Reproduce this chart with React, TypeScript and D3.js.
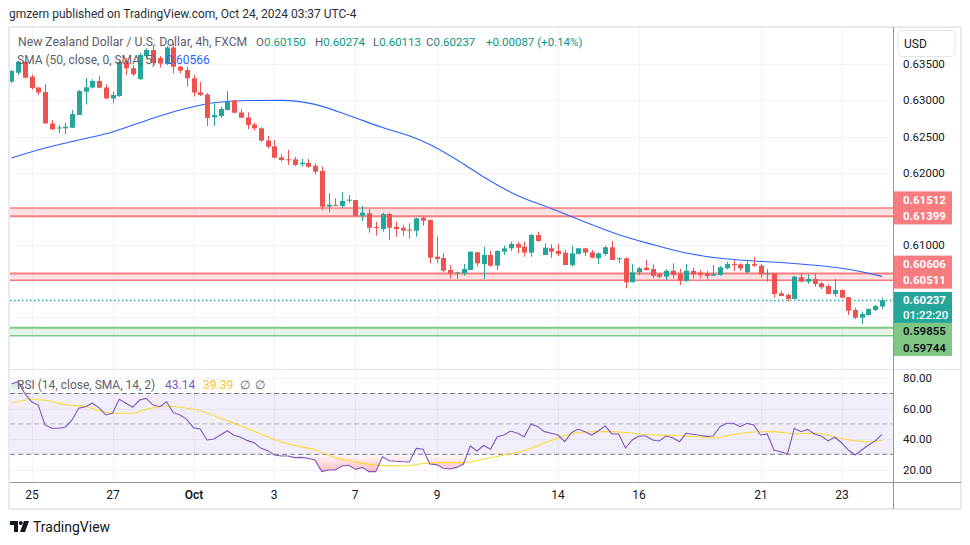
import React from "react";
import * as d3 from "d3";

// ---------- DATA (NZD/USD 4h, FXCM) ----------
const opens = [0.63259,0.63383,0.63535,0.63328,0.63178,0.63116,0.62681,0.62618,0.62614,0.62622,0.62798,0.63120,0.63178,0.63268,0.63178,0.63026,0.63061,0.63535,0.63444,0.63296,0.63614,0.63697,0.63586,0.63503,0.63732,0.63466,0.63420,0.63306,0.63112,0.63082,0.62766,0.62784,0.62867,0.62996,0.62833,0.62764,0.62667,0.62614,0.62445,0.62365,0.62213,0.62185,0.62185,0.62116,0.62134,0.62097,0.62024,0.61530,0.61553,0.61539,0.61618,0.61622,0.61405,0.61438,0.61249,0.61221,0.61429,0.61253,0.61239,0.61212,0.61198,0.61378,0.61346,0.60838,0.60820,0.60654,0.60617,0.60609,0.60654,0.60899,0.60737,0.60862,0.60714,0.60907,0.60954,0.61014,0.60977,0.60894,0.61138,0.60862,0.60954,0.60917,0.60894,0.60723,0.60876,0.60954,0.60899,0.60816,0.60876,0.60968,0.60802,0.60816,0.60484,0.60622,0.60686,0.60668,0.60595,0.60562,0.60645,0.60599,0.60506,0.60641,0.60617,0.60609,0.60575,0.60585,0.60678,0.60737,0.60733,0.60622,0.60737,0.60714,0.60595,0.60609,0.60332,0.60309,0.60253,0.60553,0.60492,0.60530,0.60470,0.60433,0.60322,0.60378,0.60277,0.60101,0.59995,0.60032,0.60101,0.60150];
const highs = [0.63420,0.63545,0.63552,0.63358,0.63185,0.63227,0.62729,0.62660,0.62692,0.62867,0.63144,0.63310,0.63292,0.63337,0.63223,0.63120,0.63545,0.63586,0.63490,0.63656,0.63721,0.63766,0.63614,0.63752,0.63790,0.63476,0.63466,0.63351,0.63254,0.63102,0.62960,0.62913,0.63130,0.63006,0.62881,0.62835,0.62692,0.62628,0.62508,0.62452,0.62254,0.62314,0.62217,0.62190,0.62190,0.62130,0.62083,0.61715,0.61646,0.61729,0.61692,0.61629,0.61539,0.61498,0.61322,0.61447,0.61447,0.61322,0.61277,0.61300,0.61378,0.61405,0.61353,0.61115,0.60885,0.60723,0.60631,0.60737,0.60917,0.60907,0.60977,0.60921,0.60931,0.60990,0.61046,0.61046,0.61046,0.61152,0.61184,0.61024,0.61010,0.61014,0.60931,0.60990,0.60963,0.60963,0.60931,0.60894,0.60990,0.61055,0.60830,0.60830,0.60733,0.60700,0.60793,0.60733,0.60609,0.60664,0.60747,0.60668,0.60737,0.60686,0.60654,0.60641,0.60723,0.60710,0.60769,0.60793,0.60747,0.60783,0.60830,0.60737,0.60664,0.60613,0.60364,0.60332,0.60571,0.60609,0.60595,0.60609,0.60492,0.60456,0.60530,0.60387,0.60281,0.60133,0.60078,0.60125,0.60170,0.60274];
const lows = [0.63241,0.63351,0.63303,0.63151,0.63075,0.62674,0.62591,0.62549,0.62535,0.62618,0.62798,0.62943,0.63167,0.63167,0.63015,0.62960,0.63047,0.63351,0.63337,0.63282,0.63586,0.63476,0.63455,0.63490,0.63375,0.63375,0.63189,0.63054,0.63061,0.62646,0.62646,0.62757,0.62867,0.62822,0.62752,0.62604,0.62581,0.62429,0.62337,0.62199,0.62152,0.62107,0.62093,0.62083,0.62069,0.61978,0.61484,0.61452,0.61539,0.61508,0.61577,0.61401,0.61332,0.61170,0.61129,0.61184,0.61069,0.61115,0.61129,0.61083,0.61115,0.61267,0.60747,0.60747,0.60622,0.60539,0.60530,0.60575,0.60654,0.60700,0.60530,0.60700,0.60654,0.60862,0.60917,0.60885,0.60838,0.60838,0.61046,0.60862,0.60824,0.60848,0.60723,0.60700,0.60871,0.60852,0.60816,0.60737,0.60852,0.60793,0.60747,0.60401,0.60484,0.60585,0.60645,0.60539,0.60539,0.60516,0.60539,0.60447,0.60492,0.60539,0.60539,0.60530,0.60571,0.60575,0.60664,0.60641,0.60641,0.60609,0.60700,0.60548,0.60492,0.60271,0.60291,0.60216,0.60253,0.60488,0.60461,0.60423,0.60391,0.60322,0.60285,0.60263,0.60032,0.59977,0.59907,0.60022,0.60087,0.60113];
const closes = [0.63407,0.63535,0.63314,0.63171,0.63109,0.62681,0.62600,0.62625,0.62636,0.62812,0.63130,0.63181,0.63268,0.63176,0.63029,0.63075,0.63531,0.63444,0.63361,0.63628,0.63697,0.63517,0.63510,0.63732,0.63466,0.63411,0.63306,0.63109,0.63075,0.62757,0.62798,0.62881,0.62982,0.62830,0.62761,0.62660,0.62614,0.62443,0.62360,0.62207,0.62176,0.62178,0.62107,0.62138,0.62083,0.62014,0.61530,0.61557,0.61546,0.61609,0.61627,0.61405,0.61447,0.61239,0.61239,0.61429,0.61239,0.61221,0.61198,0.61205,0.61369,0.61336,0.60824,0.60806,0.60645,0.60609,0.60622,0.60668,0.60907,0.60747,0.60862,0.60714,0.60917,0.60954,0.61014,0.60963,0.60894,0.61138,0.61055,0.60963,0.60907,0.60876,0.60723,0.60885,0.60954,0.60894,0.60824,0.60885,0.60968,0.60793,0.60816,0.60484,0.60622,0.60678,0.60654,0.60575,0.60562,0.60641,0.60585,0.60506,0.60645,0.60595,0.60585,0.60571,0.60599,0.60692,0.60737,0.60729,0.60678,0.60737,0.60714,0.60595,0.60609,0.60322,0.60295,0.60253,0.60562,0.60492,0.60530,0.60461,0.60415,0.60322,0.60378,0.60271,0.60091,0.59995,0.60046,0.60115,0.60156,0.60237];

const smaIdx = [0,5,10,15,20,25,30,35,40,45,50,55,60,62,65,67,70,72,75,80,85,90,95,100,105,110,115,120,125,129];
const smaVals = [0.62203,0.62342,0.62452,0.62563,0.62723,0.62867,0.62967,0.62999,0.63001,0.62945,0.62791,0.62625,0.62473,0.62389,0.62235,0.62120,0.61940,0.61830,0.61685,0.61505,0.61318,0.61142,0.61007,0.60889,0.60817,0.60779,0.60751,0.60712,0.60647,0.60566];

const rsiVals = [76.3,77.8,70.1,64.6,62.4,49.3,47.1,47.1,47.8,52.6,60.3,61.3,63.6,60.7,55.9,57.0,66.2,63.6,60.9,65.7,66.8,62.4,61.3,64.6,57.4,55.9,53.0,47.5,46.6,39.4,40.1,42.7,45.5,42.5,41.2,39.0,37.6,33.9,32.4,29.5,28.9,28.9,27.8,28.0,27.4,26.3,18.6,19.7,19.7,22.3,22.8,20.1,21.4,18.6,18.6,28.4,25.8,25.4,25.1,24.9,33.9,33.3,23.6,23.2,20.8,20.3,21.4,23.6,35.5,32.2,35.8,33.3,41.6,42.7,45.3,43.8,41.6,49.9,48.2,44.9,43.8,42.7,38.3,44.2,46.6,44.9,42.7,45.5,48.6,43.4,43.4,34.1,39.4,42.0,42.0,39.4,38.8,42.0,40.9,38.3,43.8,43.2,42.5,41.8,42.0,48.2,50.4,50.4,48.2,50.4,49.3,42.7,43.4,32.8,31.7,30.2,47.1,44.9,46.4,43.4,42.0,38.8,41.2,37.6,32.8,29.5,32.8,36.1,38.8,43.14];

const rsiMaIdx = [0,3,5,8,11,13,15,18,20,23,26,28,31,34,38,40,43,45,48,51,54,58,61,64,67,70,73,76,79,82,85,88,91,94,98,102,104,107,110,113,116,119,122,125,127,129];
const rsiMaVals = [63.6,66.1,65.6,62.6,61.4,58.8,57.0,57.0,59.6,61.8,60.3,58.7,53.7,48.8,41.4,38.1,34.9,33.0,27.8,25.0,22.9,22.3,23.9,24.5,24.5,26.9,29.5,32.5,37.4,42.3,44.7,44.9,44.3,43.0,42.4,41.4,40.7,43.0,44.7,44.9,43.4,44.0,41.4,38.9,38.2,39.39];

const timeTickIdx = [3,15,27,39,51,63,81,93,111,123];
const timeTickLabels = ["25","27","Oct","3","7","9","14","16","21","23"];
const priceTicks = [0.635,0.63,0.625,0.62,0.615,0.61,0.605,0.6];
const rsiTicks = [80,60,40,20];

const zoneHigh = [0.61512,0.60606,0.59855];
const zoneLow = [0.61399,0.60511,0.59744];
const zoneKind = ["res","res","sup"];

const lastOpen = 0.6015, lastHigh = 0.60274, lastLow = 0.60113, lastClose = 0.60237;
const lastChange = "+0.00087 (+0.14%)";
const smaLast = 0.60566;
const rsiLast = 43.14, rsiMaLast = 39.39;
const countdown = "01:22:20";

// ---------- STYLE ----------
const GREEN = "#26a69a";
const RED = "#ef5350";
const GRID = "#f0f3fa";
const TXT = "#131722";
const LEG = "#5d606b";
const VAL = "#089981";
const FONT = "Roboto, 'Noto Sans', sans-serif";

export default function App() {
  const N = closes.length;
  const plotL = 10, plotR = 893.5;
  const mainTop = 28, mainBot = 369.5, rsiTop = 370, rsiBot = 482;

  const xs = d3.scaleLinear().domain([0, N - 1]).range([11.25, 882]);
  const yP = d3.scaleLinear().domain([0.6, 0.635]).range([317.3, 64.25]);
  const yR = d3.scaleLinear().domain([20, 80]).range([469.5, 378.3]);
  const cx = (i: number) => Math.round(xs(i));

  const smaPath = d3.line<number>().x((_, k) => xs(smaIdx[k])).y((d) => yP(d)).curve(d3.curveMonotoneX)(smaVals) || "";
  const rsiPath = d3.line<number>().x((_, i) => xs(i)).y((d) => yR(d))(rsiVals) || "";
  const rsiMaPath = d3.line<number>().x((_, k) => xs(rsiMaIdx[k])).y((d) => yR(d)).curve(d3.curveMonotoneX)(rsiMaVals) || "";
  const obArea = d3.area<number>().x((_, i) => xs(i)).y0(yR(70)).y1((d) => yR(d))(rsiVals) || "";
  const osArea = d3.area<number>().x((_, i) => xs(i)).y0(yR(30)).y1((d) => yR(d))(rsiVals) || "";

  // price labels on axis
  const LH = 16.5;
  const tealC = yP(lastClose);
  const tealTop = tealC - 8.25;
  const tealBot = tealTop + 31;
  const zoneLabels = zoneHigh.map((hi, k) => {
    const lo = zoneLow[k];
    if (zoneKind[k] === "sup") {
      const c1 = Math.max(yP(hi), tealBot + LH / 2);
      const c2 = Math.max(yP(lo), c1 + LH);
      return { c1, c2, hi, lo, kind: zoneKind[k] };
    }
    const c2 = Math.min(yP(lo), tealTop - LH / 2);
    const c1 = Math.min(yP(hi), c2 - LH);
    return { c1, c2, hi, lo, kind: zoneKind[k] };
  });
  const boxes = [
    ...zoneLabels.map((z) => [z.c1 - LH / 2, z.c2 + LH / 2]),
    [tealTop, tealBot],
  ];
  const visibleTicks = priceTicks.filter((p) => {
    const y = yP(p);
    return !boxes.some(([a, b]) => y + 7 > a && y - 7 < b);
  });

  return (
    <svg width={970} height={545} style={{ position: "absolute", left: 0, top: 0, background: "#fff" }} fontFamily={FONT}>
      <defs>
        <clipPath id="mainClip"><rect x={plotL} y={mainTop} width={plotR - plotL} height={mainBot - mainTop} /></clipPath>
        <clipPath id="rsiClip"><rect x={plotL} y={rsiTop} width={plotR - plotL} height={rsiBot - rsiTop} /></clipPath>
        <clipPath id="obClip"><rect x={plotL} y={rsiTop} width={plotR - plotL} height={yR(70) - rsiTop} /></clipPath>
        <clipPath id="osClip"><rect x={plotL} y={yR(30)} width={plotR - plotL} height={rsiBot - yR(30)} /></clipPath>
        <linearGradient id="osGrad" gradientUnits="userSpaceOnUse" x1="0" x2="0" y1={yR(30)} y2={yR(0)}>
          <stop offset="0" stopColor="#f23645" stopOpacity={0.02} />
          <stop offset="1" stopColor="#f23645" stopOpacity={0.85} />
        </linearGradient>
        <linearGradient id="obGrad" gradientUnits="userSpaceOnUse" x1="0" x2="0" y1={yR(70)} y2={yR(100)}>
          <stop offset="0" stopColor="#089981" stopOpacity={0.02} />
          <stop offset="1" stopColor="#089981" stopOpacity={0.85} />
        </linearGradient>
      </defs>

      {/* header */}
      <text x={9} y={17.5} fontSize={12} fill="#2a2e39">gmzern published on TradingView.com, Oct 24, 2024 03:37 UTC-4</text>

      {/* frame */}
      <rect x={9} y={27} width={952} height={482} fill="#fff" stroke="#e0e3eb" strokeWidth={1.5} />

      {/* grid */}
      {timeTickIdx.map((ti, k) => (
        <line key={"vg" + k} x1={cx(ti) + 0.5} x2={cx(ti) + 0.5} y1={mainTop} y2={rsiBot} stroke={GRID} strokeWidth={1} />
      ))}
      {priceTicks.map((p, k) => (
        <line key={"hg" + k} x1={plotL} x2={plotR} y1={Math.round(yP(p)) + 0.5} y2={Math.round(yP(p)) + 0.5} stroke={GRID} />
      ))}
      {rsiTicks.map((v, k) => (
        <line key={"rg" + k} x1={plotL} x2={plotR} y1={Math.round(yR(v)) + 0.5} y2={Math.round(yR(v)) + 0.5} stroke={GRID} />
      ))}

      {/* zones */}
      <g clipPath="url(#mainClip)">
        {zoneHigh.map((hi, k) => {
          const col = zoneKind[k] === "sup" ? "#81c784" : "#f77c80";
          const y1 = yP(hi), y2 = yP(zoneLow[k]);
          const wTop = k === 0 ? 1.5 : 2;
          const wBot = k === 0 ? 2 : 1.5;
          return (
            <g key={"z" + k}>
              <rect x={plotL} y={y1} width={plotR - plotL} height={y2 - y1} fill={col} fillOpacity={0.22} />
              <line x1={plotL} x2={plotR} y1={y1} y2={y1} stroke={col} strokeWidth={wTop} />
              <line x1={plotL} x2={plotR} y1={y2} y2={y2} stroke={col} strokeWidth={wBot} />
            </g>
          );
        })}

        {/* last price dotted line */}
        <line x1={plotL} x2={plotR} y1={Math.round(yP(lastClose)) + 0.5} y2={Math.round(yP(lastClose)) + 0.5} stroke={GREEN} strokeWidth={1.3} strokeDasharray="1.5 2.5" />

        {/* SMA */}
        <path d={smaPath} fill="none" stroke="#2962ff" strokeWidth={1.1} />

        {/* candles */}
        {closes.map((c, i) => {
          const o = opens[i];
          const col = c >= o ? GREEN : RED;
          const x = cx(i);
          const top = Math.min(yP(o), yP(c));
          const h = Math.max(1, Math.abs(yP(o) - yP(c)));
          return (
            <g key={"c" + i}>
              <line x1={x + 0.5} x2={x + 0.5} y1={yP(highs[i])} y2={yP(lows[i])} stroke={col} strokeWidth={1} />
              <rect x={x - 2} y={top} width={5} height={h} fill={col} />
            </g>
          );
        })}
      </g>

      {/* legend main */}
      <text x={18} y={45.5} fontSize={12.2} fill={LEG}>New Zealand Dollar / U.S. Dollar, 4h, FXCM</text>
      <g fontSize={11.5} fill={LEG}>
        <text x={256} y={45.5}>O<tspan fill={VAL}>{lastOpen.toFixed(5)}</tspan></text>
        <text x={315} y={45.5}>H<tspan fill={VAL}>{lastHigh.toFixed(5)}</tspan></text>
        <text x={373} y={45.5}>L<tspan fill={VAL}>{lastLow.toFixed(5)}</tspan></text>
        <text x={426} y={45.5}>C<tspan fill={VAL}>{lastClose.toFixed(5)}</tspan></text>
        <text x={486} y={45.5} fill={VAL}>{lastChange}</text>
      </g>
      <g fontSize={12}>
        <text x={17} y={63.5} fill={LEG}>SMA (50, close, 0, SMA, 5)</text>
        <text x={166} y={63.5} fill="#2962ff">{smaLast.toFixed(5)}</text>
      </g>

      {/* pane separator */}
      <line x1={plotL} x2={961} y1={369.5} y2={369.5} stroke="#e0e3eb" strokeWidth={1} />

      {/* RSI pane */}
      <rect x={plotL} y={yR(70)} width={plotR - plotL} height={yR(30) - yR(70)} fill="#7e57c2" fillOpacity={0.1} />
      <g clipPath="url(#rsiClip)">
        <path d={obArea} fill="url(#obGrad)" clipPath="url(#obClip)" />
        <path d={osArea} fill="url(#osGrad)" clipPath="url(#osClip)" />
      </g>
      <line x1={plotL} x2={plotR} y1={yR(70)} y2={yR(70)} stroke="#787b86" strokeDasharray="5 3" />
      <line x1={plotL} x2={plotR} y1={yR(50)} y2={yR(50)} stroke="#787b86" strokeOpacity={0.5} strokeDasharray="5 3" />
      <line x1={plotL} x2={plotR} y1={yR(30)} y2={yR(30)} stroke="#787b86" strokeDasharray="5 3" />
      <g clipPath="url(#rsiClip)">
        <path d={rsiMaPath} fill="none" stroke="#fdd835" strokeWidth={1.1} />
        <path d={rsiPath} fill="none" stroke="#7e57c2" strokeWidth={1.1} />
      </g>
      <g fontSize={12}>
        <text x={17} y={389} fill={LEG}>RSI (14, close, SMA, 14, 2)</text>
        <text x={165} y={389} fill="#7e57c2">{rsiLast.toFixed(2)}</text>
        <text x={203} y={389} fill="#fbc02d">{rsiMaLast.toFixed(2)}</text>
        <text x={240} y={389} fill={LEG}>∅</text>
        <text x={255} y={389} fill={LEG}>∅</text>
      </g>

      {/* axes lines */}
      <line x1={plotR} x2={plotR} y1={27} y2={509} stroke="#9598a1" strokeWidth={1} />
      <line x1={plotL} x2={961} y1={482.5} y2={482.5} stroke="#9598a1" strokeWidth={1} />

      {/* price axis labels */}
      <g fontSize={11.5} fill={TXT}>
        {visibleTicks.map((p, k) => (
          <text key={"pt" + k} x={903} y={yP(p) + 4}>{p.toFixed(5)}</text>
        ))}
        {rsiTicks.map((v, k) => (
          <text key={"rt" + k} x={903} y={yR(v) + 4}>{v.toFixed(2)}</text>
        ))}
      </g>

      {/* USD box */}
      <rect x={898} y={30.5} width={57} height={26} rx={4} fill="#fff" stroke="#e0e3eb" />
      <text x={904} y={48} fontSize={12} fill={TXT}>USD</text>

      {/* zone labels */}
      {zoneLabels.map((z, k) => {
        const sup = z.kind === "sup";
        const bg = sup ? "#81c784" : "#f77c80";
        const fg = sup ? "#131722" : "#ffffff";
        return (
          <g key={"zl" + k}>
            <rect x={894} y={z.c1 - LH / 2} width={58} height={z.c2 - z.c1 + LH} fill={bg} />
            <text x={903} y={z.c1 + 4} fontSize={11.5} fontWeight={700} fill={fg}>{z.hi.toFixed(5)}</text>
            <text x={903} y={z.c2 + 4} fontSize={11.5} fontWeight={700} fill={fg}>{z.lo.toFixed(5)}</text>
          </g>
        );
      })}
      <rect x={894} y={tealTop} width={58} height={31} fill={GREEN} />
      <text x={903} y={tealC + 4} fontSize={11.5} fontWeight={700} fill="#fff">{lastClose.toFixed(5)}</text>
      <text x={903} y={tealC + 19} fontSize={11.5} fontWeight={500} fill="#fff">{countdown}</text>

      {/* time axis labels */}
      <g fontSize={12} fill={TXT} textAnchor="middle">
        {timeTickIdx.map((ti, k) => (
          <text key={"tl" + k} x={cx(ti)} y={499} fontWeight={timeTickLabels[k] === "Oct" ? 600 : 400}>{timeTickLabels[k]}</text>
        ))}
      </g>

      {/* TradingView logo */}
      <g fill={TXT}>
        <path d="M10 521 H18 V532 H14 V525 H10 Z" />
        <circle cx={20.8} cy={523} r={2} />
        <path d="M24 521 H29 L25 532 H20 Z" />
        <text x={33} y={532} fontSize={14}>TradingView</text>
      </g>
    </svg>
  );
}
